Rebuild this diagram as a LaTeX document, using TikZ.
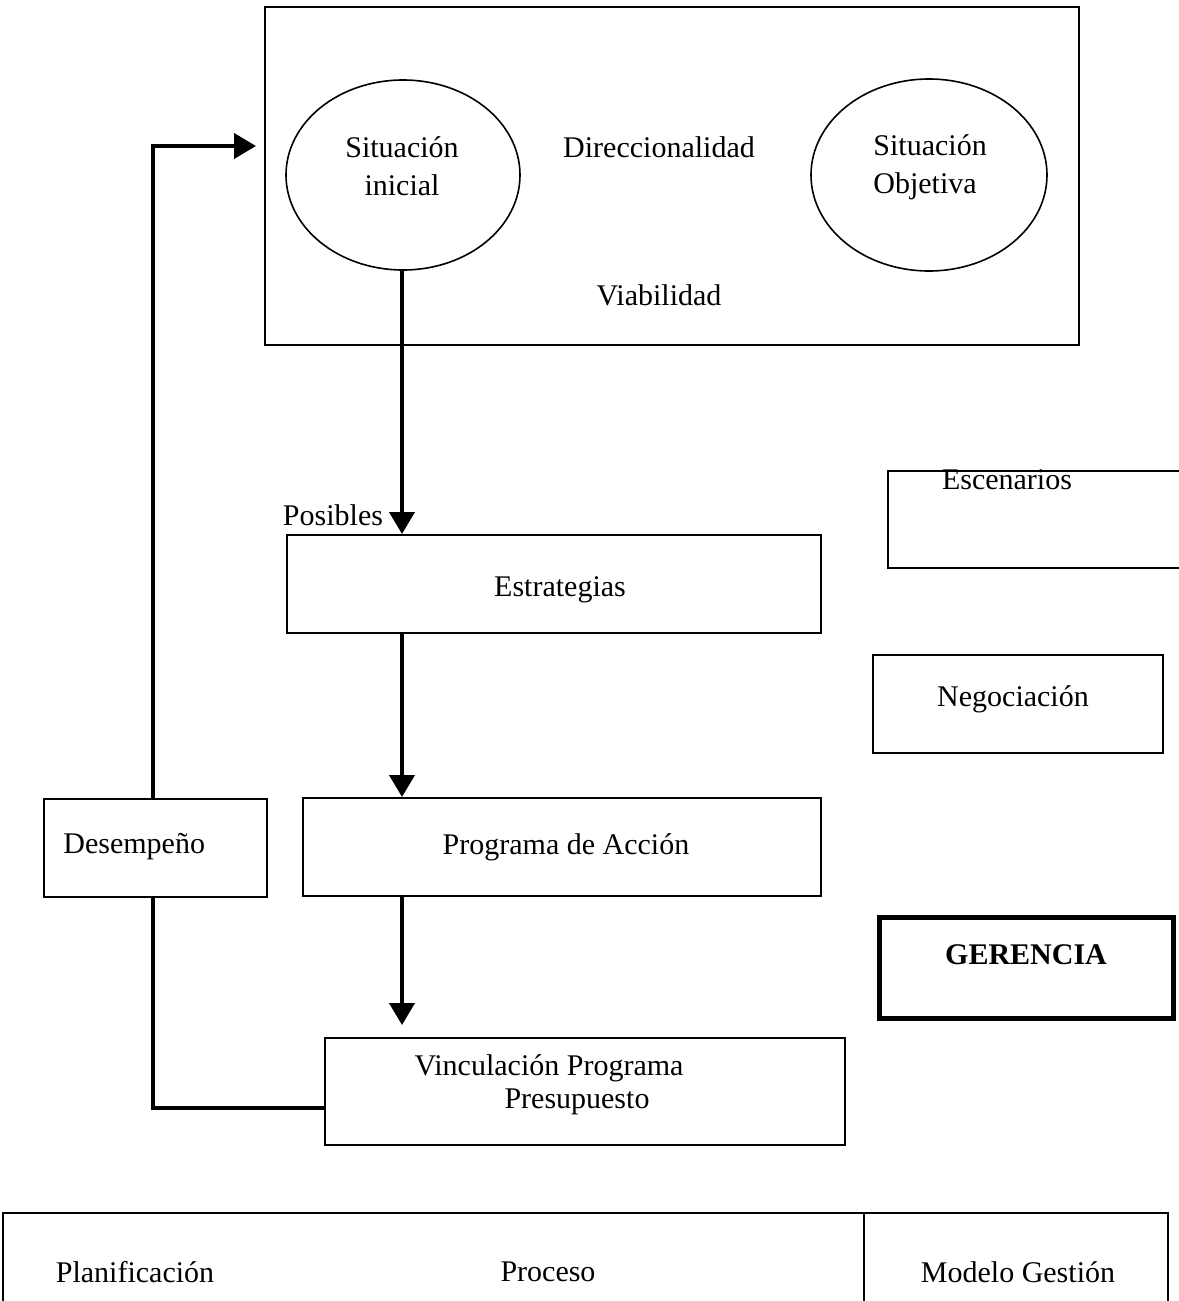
\documentclass[tikz,border=0pt]{standalone}
\usepackage{fontspec}
\setmainfont{Liberation Serif}
\usetikzlibrary{arrows.meta,shapes.geometric}
\begin{document}
\begin{tikzpicture}[x=0.5pt,y=-0.5pt,
  txt/.style={font=\fontsize{15}{19}\selectfont, inner sep=0pt},
  boxl/.style={draw, line width=1pt, inner sep=0pt},
  ell/.style={draw, ellipse, line width=0.8pt, inner sep=0pt},
  conn/.style={line width=2pt},
  arr/.style={conn, -{Triangle[width=12.5pt,length=11pt]}},
]
\useasboundingbox (0,0) rectangle (1178,1301);

% main box with ellipses
\node[boxl, minimum width=407pt, minimum height=169pt] (big) at (672,176) {};
\node[ell, minimum width=117pt, minimum height=95pt] (si) at (403,175) {};
\node[ell, minimum width=118pt, minimum height=96pt] (so) at (929,175) {};
\node[txt, align=center] (tsi) at (402,166) {Situación\\inicial};
\node[txt, align=left, anchor=west] (tso) at (873,167) {Situación\\Objetiva};
\node[txt] (dir) at (659,147) {Direccionalidad};
\node[txt] (via) at (659,295) {Viabilidad};

% process boxes
\node[boxl, minimum width=267pt, minimum height=49pt] (est) at (554,584) {};
\node[txt] (test) at (560,590) {Estrategias};
\node[txt] (pos) at (333,515) {Posibles};
\node[boxl, minimum width=259pt, minimum height=49pt] (prog) at (562,847) {};
\node[txt] (tprog) at (566,847) {Programa de Acción};
\node[boxl, minimum width=260pt, minimum height=53.5pt] (vin) at (585,1091.5) {};
\node[txt] (tvin1) at (549,1068) {Vinculación Programa};
\node[txt] (tvin2) at (577,1102) {Presupuesto};
\node[boxl, minimum width=111.5pt, minimum height=49pt] (des) at (155.5,848) {};
\node[txt, anchor=west] (tdes) at (63,847) {Desempeño};

% right column
\draw[line width=1pt] (1185,471) -- (888,471) -- (888,568) -- (1185,568);
\node[txt, anchor=base] (esc) at (1007,489) {Escenarios};
\node[boxl, minimum width=145pt, minimum height=49pt] (neg) at (1018,704) {};
\node[txt] (tneg) at (1013,699) {Negociación};
\node[draw, line width=2.5pt, inner sep=0pt, minimum width=147pt, minimum height=50.5pt] (ger) at (1026,967.5) {};
\node[txt, font=\fontsize{15}{19}\selectfont\bfseries] (tger) at (1026,955) {GERENCIA};

% connectors
\coordinate (ax) at (402,0);
\coordinate (fb) at (153,0);
\coordinate (fbtop) at (256,146);
\coordinate (vinj) at (325,1108);
\draw[arr] (ax |- si.south) -- (ax |- est.north);
\draw[arr] (ax |- est.south) -- (ax |- prog.north);
\draw[arr, shorten >=6pt] (ax |- prog.south) -- (ax |- vin.north);
\draw[conn] (vinj) -| (fb |- des.south);
\draw[arr] (fb |- des.north) |- (fbtop);

% bottom table
\draw[line width=1pt] (3,1310) -- (3,1213) -- (1168,1213) -- (1168,1310);
\draw[line width=1pt] (864,1213) -- (864,1310);
\node[txt] (pla) at (135,1272) {Planificación};
\node[txt] (pro) at (548,1272) {Proceso};
\node[txt] (mod) at (1018,1272) {Modelo Gestión};
\end{tikzpicture}
\end{document}
